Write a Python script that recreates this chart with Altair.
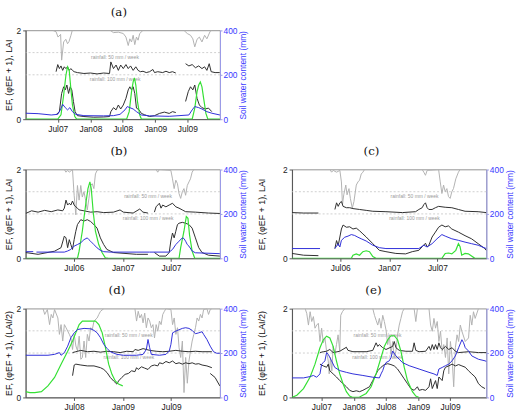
import numpy as np
import pandas as pd
import altair as alt

# ---------------------------------------------------------------------------
# Series values. Times are decimal years; None marks a break in a record.
# Rainfall in mm/week (drawn hanging from the top: 2 - rain/100),
# EF and (phi_EF + 1) on the left axis, LAI (halved in d/e),
# soil water content in mm on the right axis.
# ---------------------------------------------------------------------------

# ----- (a) -----
A_RAIN_T = [2007.42, 2007.47, 2007.50, 2007.54, 2007.556, 2007.587, 2007.62, 2007.647, 2007.67, 2007.70, 2007.72, None,
            2008.305, 2008.355, 2008.431, 2008.507, 2008.548, 2008.583, 2008.608, 2008.634, 2008.659, 2008.684, 2008.71,
            2008.735, 2008.76, 2008.81, None,
            2009.443, 2009.494, 2009.544, 2009.58, 2009.61, 2009.645, 2009.681, 2009.721, 2009.762, 2009.797, 2009.848, 2009.873]
A_RAIN_MM = [0, 3, 15, 9, 67, 26, 20, 30, 25, 11, 0, None,
             0, 5, 4, 7, 15, 34, 19, 26, 11, 32, 15, 22, 7, 0, None,
             0, 7, 11, 19, 37, 20, 15, 26, 11, 19, 2, 0]
A_PHI_T = [2007.47, 2007.496, 2007.521, 2007.546, 2007.572, 2007.597, 2007.622, 2007.647, 2007.673, 2007.698,
           2007.723, 2007.749, 2007.799, 2007.90, 2008.002, 2008.103, 2008.204, 2008.295, 2008.315, 2008.356,
           2008.396, 2008.431, 2008.467, 2008.507, 2008.548, 2008.583, 2008.619, 2008.659, 2008.70, 2008.735,
           2008.77, 2008.811, 2008.861, 2008.912, 2008.963, 2008.988, 2009.038, 2009.114, 2009.165, 2009.215,
           2009.266, 2009.317, None,
           2009.468, 2009.519, 2009.57, 2009.62, 2009.671, 2009.721, 2009.762, 2009.797, 2009.833, 2009.863, 2009.924, 2009.995]
A_PHI_P1 = [1.07, 1.23, 1.14, 1.20, 1.10, 1.18, 1.14, 1.18, 1.10, 1.14,
            1.10, 1.07, 1.05, 1.03, 1.04, 1.02, 1.04, 1.03, 1.29, 1.14,
            1.22, 1.10, 1.22, 1.14, 1.23, 1.14, 1.20, 1.10, 1.18, 1.10,
            1.07, 1.08, 1.05, 1.07, 1.12, 1.05, 1.07, 1.05, 1.08, 1.05,
            1.07, 1.04, None,
            1.25, 1.20, 1.23, 1.16, 1.20, 1.14, 1.18, 1.10, 1.25, 1.07, 1.05, 1.05]
A_EF_T = [2007.47, 2007.521, 2007.556, 2007.587, 2007.612, 2007.637, 2007.663, 2007.688, 2007.713, 2007.738,
          2007.764, 2007.799, 2007.90, 2008.052, 2008.204, 2008.295, 2008.315, 2008.356, 2008.396, 2008.431,
          2008.467, 2008.507, 2008.548, 2008.583, 2008.608, 2008.634, 2008.659, 2008.684, 2008.71, 2008.75,
          2008.786, 2008.836, 2008.912, 2008.988, 2009.064, 2009.14, 2009.215, 2009.266, 2009.317, None,
          2009.468, 2009.509, 2009.544, 2009.58, 2009.61, 2009.645, 2009.681, 2009.721, 2009.772, 2009.822, 2009.873]
A_EF = [0.10, 0.17, 0.58, 0.73, 0.66, 0.77, 0.58, 0.73, 0.66, 0.40,
        0.17, 0.08, 0.06, 0.045, 0.05, 0.06, 0.17, 0.26, 0.21, 0.32,
        0.23, 0.32, 0.47, 0.66, 0.73, 0.66, 0.73, 0.58, 0.25, 0.21,
        0.13, 0.10, 0.06, 0.08, 0.13, 0.16, 0.13, 0.17, 0.15, None,
        0.40, 0.62, 0.73, 0.66, 0.77, 0.47, 0.32, 0.26, 0.23, 0.25, 0.17]
A_LAI_T = [2007.0, 2007.496, 2007.546, 2007.587, 2007.622, 2007.647, 2007.673, 2007.698, 2007.723, 2007.759,
           2007.789, 2008.558, 2008.598, 2008.634, 2008.659, 2008.679, 2008.70, 2008.725, 2008.76, 2008.786,
           2009.57, 2009.61, 2009.645, 2009.671, 2009.696, 2009.721, 2009.747, 2009.782, 2009.812, 2009.998]
A_LAI = [0, 0, 0.10, 0.54, 0.99, 1.18, 1.10, 0.69, 0.32, 0.06,
         0, 0, 0.17, 0.62, 0.84, 0.93, 0.77, 0.40, 0.10, 0,
         0, 0.25, 0.62, 0.77, 0.84, 0.73, 0.47, 0.13, 0, 0]
A_SWC_T = [2007.0, 2007.192, 2007.395, 2007.496, 2007.536, 2007.572, 2007.612, 2007.647, 2007.683, 2007.723,
           2007.774, 2007.90, 2008.204, 2008.356, 2008.457, 2008.533, 2008.568, 2008.608, 2008.659, 2008.71,
           2008.786, 2008.912, 2009.215, 2009.519, 2009.57, 2009.61, 2009.671, 2009.721, 2009.797, 2009.873, 2009.998]
A_SWC = [27, 25, 19, 22, 42, 67, 52, 42, 52, 34,
         22, 16, 15, 16, 22, 42, 57, 52, 46, 34,
         19, 15, 13, 19, 42, 57, 52, 46, 34, 27, 19]

# ----- (b) -----
B_RAIN_T = [2006.398, 2006.415, 2006.432, 2006.449, 2006.482, 2006.499, 2006.516, 2006.533, 2006.55, 2006.567,
            2006.583, 2006.60, 2006.617, 2006.634, 2006.651, 2006.668, 2006.685, 2006.702, 2006.718, 2006.735, 2006.752, None,
            2007.342, 2007.359, 2007.376, 2007.494, 2007.511, 2007.528, 2007.545, 2007.562, 2007.578, 2007.595,
            2007.612, 2007.629, 2007.646, 2007.663, 2007.68, 2007.696, 2007.713, 2007.73]
B_RAIN_MM = [0, 6, 2, 6, 0, 58, 102, 36, 69, 36, 62, 50, 69, 91, 65, 36, 32, 43, 10, 2, 0, None,
             0, 6, 0, 2, 21, 43, 24, 32, 54, 65, 50, 43, 58, 36, 28, 21, 6, 0]
B_PHI_T = [2006.0, 2006.061, 2006.128, 2006.196, 2006.263, 2006.331, 2006.381, 2006.398, 2006.415, 2006.432,
           2006.449, 2006.465, 2006.482, 2006.499, 2006.516, 2006.533, 2006.55, 2006.60, 2006.668, 2006.735,
           2006.803, 2006.904, 2006.971, 2007.005, 2007.106, 2007.174, 2007.207, 2007.258, None,
           2007.325, 2007.342, 2007.359, 2007.376, 2007.393, 2007.41, 2007.443, 2007.477, 2007.511, 2007.545,
           2007.578, 2007.612, 2007.646, 2007.747, 2007.882, 2007.998]
B_PHI_P1 = [1.01, 1.07, 1.04, 1.08, 1.05, 1.09, 1.07, 1.13, 1.31, 1.20,
            1.24, 1.20, 1.29, 1.20, 1.16, 1.13, 1.09, 1.07, 1.04, 1.05,
            1.03, 1.04, 1.09, 1.04, 1.02, 1.11, 1.04, 1.02, None,
            1.04, 1.16, 1.20, 1.24, 1.13, 1.20, 1.16, 1.20, 1.24, 1.16,
            1.13, 1.09, 1.05, 1.04, 1.02, 1.01]
B_EF_T = [2006.0, 2006.128, 2006.297, 2006.364, 2006.398, 2006.415, 2006.432, 2006.449, 2006.465, 2006.482,
          2006.499, 2006.516, 2006.533, 2006.567, 2006.60, 2006.634, 2006.668, 2006.702, 2006.735, 2006.769,
          2006.803, 2006.836, 2006.904, 2007.14, 2007.258, None,
          2007.325, 2007.376, 2007.443, 2007.477, 2007.494, 2007.511, 2007.528, 2007.545, 2007.562, 2007.578,
          2007.612, 2007.646, 2007.68, 2007.713, 2007.747, 2007.781, 2007.815, 2007.882, 2007.998]
B_EF = [0.13, 0.09, 0.16, 0.24, 0.50, 0.46, 0.24, 0.42, 0.31, 0.20,
        0.42, 0.61, 0.76, 0.87, 0.84, 0.87, 0.83, 0.76, 0.68, 0.46,
        0.31, 0.20, 0.13, 0.09, 0.09, None,
        0.13, 0.05, 0.05, 0.13, 0.39, 0.57, 0.46, 0.61, 0.76, 0.79,
        0.81, 0.79, 0.76, 0.68, 0.46, 0.24, 0.13, 0.07, 0.05]
B_LAI_T = [2006.0, 2006.533, 2006.55, 2006.583, 2006.617, 2006.641, 2006.661, 2006.675, 2006.695, 2006.718,
           2006.752, 2006.786, 2006.82, 2006.853, 2007.578, 2007.595, 2007.629, 2007.653, 2007.67, 2007.686,
           2007.713, 2007.74, 2007.998]
B_LAI = [0, 0, 0.16, 0.61, 1.20, 1.57, 1.72, 1.57, 1.05, 0.61,
         0.31, 0.13, 0.01, 0, 0, 0.24, 0.61, 0.94, 0.90, 0.53,
         0.16, 0, 0]
B_SWC_T = [2006.0, 2006.078, None,
           2006.111, 2006.398, 2006.432, 2006.465, 2006.499, 2006.533, 2006.567, 2006.60, 2006.634, 2006.651,
           2006.668, 2006.702, 2006.735, 2006.769, 2006.803, 2006.87, 2007.275, 2007.477, 2007.511, 2007.545,
           2007.578, 2007.612, 2007.629, 2007.646, 2007.663, 2007.68, 2007.713, 2007.747, 2007.998]
B_SWC = [30, 30, None,
         28, 28, 33, 40, 55, 62, 70, 84, 92, 84,
         77, 62, 47, 36, 30, 28, 28, 28, 40, 62,
         77, 92, 89, 77, 62, 55, 33, 25, 21]

# ----- (c) -----
C_RAIN_T = [2006.39, 2006.407, 2006.424, 2006.458, 2006.492, 2006.508, 2006.519, 2006.532, 2006.553, 2006.566,
            2006.586, 2006.60, 2006.62, 2006.637, 2006.661, 2006.678, 2006.695, 2006.712, 2006.729, 2006.746, None,
            2007.339, 2007.356, 2007.373, 2007.39, 2007.508, 2007.525, 2007.542, 2007.559, 2007.576, 2007.593,
            2007.61, 2007.627, 2007.644, 2007.661, 2007.685, 2007.712, 2007.729]
C_RAIN_MM = [0, 6, 2, 6, 2, 28, 79, 57, 35, 57, 43, 65, 87, 72, 35, 28, 24, 10, 6, 0, None,
             0, 6, 13, 2, 0, 28, 54, 35, 50, 43, 61, 65, 50, 43, 21, 6, 0]
C_PHI_T = [2006.0, 2006.119, 2006.271, None,
           2006.441, 2006.458, 2006.475, 2006.492, 2006.508, 2006.525, 2006.559, 2006.593, 2006.627, 2006.695,
           2006.763, 2006.831, 2006.966, 2007.136, 2007.271, 2007.305, 2007.339, 2007.356, 2007.373, 2007.39,
           2007.407, 2007.441, 2007.475, 2007.508, 2007.576, 2007.644, 2007.712, 2007.78, 2007.915, 2007.998]
C_PHI_P1 = [1.03, 1.02, 1.02, None,
            1.10, 1.25, 1.17, 1.25, 1.28, 1.17, 1.14, 1.14, 1.12, 1.10,
            1.08, 1.06, 1.05, 1.03, 1.05, 1.10, 1.14, 1.21, 1.25, 1.14,
            1.10, 1.10, 1.14, 1.17, 1.15, 1.14, 1.10, 1.06, 1.05, 1.03]
C_EF_T = [2006.0, 2006.119, 2006.271, None,
          2006.441, 2006.458, 2006.475, 2006.492, 2006.508, 2006.525, 2006.559, 2006.593, 2006.627, 2006.661,
          2006.695, 2006.729, 2006.763, 2006.831, 2006.898, 2006.966, 2007.068, 2007.169, 2007.237, 2007.305,
          2007.339, 2007.373, 2007.39, 2007.407, 2007.441, 2007.475, 2007.508, 2007.542, 2007.576, 2007.61,
          2007.644, 2007.712, 2007.78, 2007.847, 2007.915, 2007.983, 2007.998]
C_EF = [0.11, 0.07, 0.06, None,
        0.22, 0.40, 0.29, 0.48, 0.66, 0.75, 0.70, 0.71, 0.66, 0.68,
        0.62, 0.55, 0.48, 0.33, 0.18, 0.15, 0.11, 0.10, 0.15, 0.18,
        0.26, 0.34, 0.26, 0.29, 0.48, 0.59, 0.70, 0.75, 0.71, 0.73,
        0.66, 0.59, 0.51, 0.44, 0.33, 0.22, 0.18]
C_LAI_T = [2006.0, 2006.61, 2006.627, 2006.661, 2006.695, 2006.729, 2006.763, 2006.797, 2006.831, 2006.864,
           2007.542, 2007.576, 2007.61, 2007.644, 2007.685, 2007.712, 2007.729, 2007.746, 2007.78, 2007.814,
           2007.847, 2007.881, 2007.998]
C_LAI = [0, 0, 0.07, 0.10, 0.07, 0.15, 0.17, 0.15, 0.04, 0,
         0, 0.11, 0.12, 0.10, 0.18, 0.33, 0.26, 0.07, 0.11, 0.10,
         0.05, 0, 0]
C_SWC_T = [2006.0, 2006.288, None,
           2006.441, 2006.475, 2006.492, 2006.508, 2006.542, 2006.576, 2006.61, 2006.644, 2006.678, 2006.712,
           2006.763, 2006.831, 2006.898, 2006.966, 2007.305, 2007.356, 2007.39, 2007.441, 2007.492, 2007.542,
           2007.576, 2007.644, 2007.712, 2007.78, 2007.847, 2007.915, 2007.998]
C_SWC = [44, 44, None,
         44, 66, 51, 81, 95, 100, 107, 103, 95, 88,
         78, 59, 48, 44, 44, 59, 51, 66, 88, 107,
         100, 88, 81, 73, 66, 59, 44]

# ----- (d) -----
D_RAIN_T = [2008.179, 2008.196, 2008.223, 2008.246, 2008.263, 2008.28, 2008.297, 2008.331, 2008.347, 2008.364,
            2008.381, 2008.398, 2008.415, 2008.449, 2008.465, 2008.482, 2008.499, 2008.516, 2008.533, 2008.55,
            2008.567, 2008.583, 2008.60, 2008.617, 2008.634, 2008.651, 2008.668, 2008.685, 2008.702, 2008.735,
            2008.752, 2008.769, 2008.803, None,
            2009.123, 2009.14, 2009.157, 2009.174, 2009.191, 2009.207, 2009.224, 2009.241, 2009.258, 2009.275,
            2009.292, 2009.309, 2009.325, 2009.342, 2009.359, 2009.376, 2009.393, 2009.41, 2009.427, 2009.443,
            2009.494, 2009.511, 2009.528, 2009.545, 2009.562, 2009.578, 2009.595, 2009.612, 2009.629, 2009.646,
            2009.663, 2009.68, 2009.696, 2009.713, 2009.73, 2009.747, 2009.764, 2009.781, 2009.798, 2009.815,
            2009.831, 2009.865, 2009.882, 2009.899, 2009.916]
D_RAIN_MM = [0, 13, 2, 36, 13, 21, 2, 21, 58, 36,
             73, 36, 43, 58, 66, 92, 58, 84, 95, 62,
             114, 110, 73, 110, 58, 73, 43, 47, 28, 21,
             13, 6, 0, None,
             0, 28, 6, 21, 13, 32, 10, 43, 21, 28,
             43, 36, 66, 36, 51, 28, 36, 13, 6, 0,
             2, 36, 21, 58, 43, 88, 110, 73, 189, 110,
             168, 118, 95, 73, 58, 43, 21, 28, 13, 21,
             2, 0, 13, 2, 0]
D_PHI_T = [2008.482, 2008.516, 2008.567, 2008.634, 2008.702, 2008.769, 2008.836, 2008.904, 2008.971, 2009.039,
           2009.106, 2009.123, 2009.157, 2009.207, 2009.275, 2009.342, 2009.41, 2009.477, 2009.545, 2009.612,
           2009.68, 2009.747, 2009.815, 2009.916]
D_PHI_P1 = [1.01, 1.03, 1.06, 1.03, 1.04, 1.02, 1.04, 1.03, 1.01, 1.04,
            1.03, 1.08, 1.06, 1.10, 1.06, 1.04, 1.03, 1.04, 1.06, 1.04,
            1.03, 1.04, 1.03, 1.03]
D_EF_T = [2008.482, 2008.499, 2008.516, 2008.567, 2008.634, 2008.702, 2008.769, 2008.803, 2008.836, 2008.87,
          2008.904, 2008.938, 2008.954, 2008.988, 2009.022, 2009.056, 2009.089, 2009.123, 2009.14, 2009.157,
          2009.191, 2009.224, 2009.258, 2009.292, 2009.325, 2009.359, 2009.376, 2009.41, 2009.443, 2009.477,
          2009.511, 2009.545, 2009.578, 2009.612, 2009.646, 2009.68, 2009.713, 2009.747, 2009.781, 2009.815,
          2009.865, 2009.916, None,
          2009.899, 2009.949, 2009.998]
D_EF = [0.49, 0.73, 0.75, 0.73, 0.71, 0.71, 0.67, 0.63, 0.56, 0.45,
        0.37, 0.30, 0.37, 0.45, 0.52, 0.54, 0.60, 0.58, 0.67, 0.63,
        0.69, 0.66, 0.63, 0.71, 0.73, 0.71, 0.78, 0.76, 0.81, 0.78,
        0.82, 0.76, 0.78, 0.75, 0.78, 0.76, 0.78, 0.75, 0.76, 0.73,
        0.71, 0.67, None,
        0.54, 0.45, 0.26]
D_LAI_T = [2008.0, 2008.044, 2008.094, 2008.162, 2008.229, 2008.297, 2008.364, 2008.432, 2008.482, 2008.516,
           2008.55, 2008.583, 2008.668, 2008.718, 2008.752, 2008.786, 2008.82, 2008.853, 2008.887, 2008.921,
           2008.954, 2008.998]
D_LAI = [0.26, 0.22, 0.22, 0.26, 0.52, 0.90, 1.50, 2.08, 2.54, 2.92,
         3.28, 3.44, 3.44, 3.44, 3.28, 2.92, 2.24, 1.50, 1.04, 0.74,
         0.60, 0.52]
D_SWC_T = [2008.0, 2008.229, 2008.297, 2008.347, 2008.364, 2008.398, 2008.432, 2008.465, 2008.499, 2008.533,
           2008.60, 2008.668, 2008.702, 2008.735, 2008.769, 2008.803, 2008.836, 2008.87, 2008.938, 2009.005,
           2009.14, 2009.207, 2009.241, 2009.258, 2009.275, 2009.292, 2009.376, 2009.443, 2009.477, 2009.494,
           2009.511, 2009.545, 2009.612, 2009.646, 2009.68, 2009.713, 2009.747, 2009.781, 2009.815, 2009.831,
           2009.865, 2009.899, 2009.933, 2009.966, 2009.998]
D_SWC = [190, 190, 194, 202, 190, 202, 231, 269, 291, 306,
         311, 309, 302, 291, 269, 239, 221, 206, 194, 190,
         190, 194, 216, 261, 224, 194, 190, 194, 209, 239,
         291, 299, 311, 314, 311, 302, 287, 291, 296, 284,
         261, 231, 206, 199, 199]

# ----- (e) -----
E_RAIN_T = [2007.244, 2007.269, 2007.295, 2007.321, 2007.346, 2007.372, 2007.397, 2007.423, 2007.449, 2007.474,
            2007.50, 2007.526, 2007.551, 2007.577, 2007.603, 2007.618, 2007.638, 2007.659, 2007.679, 2007.705,
            2007.731, 2007.756, 2007.782, 2007.797, 2007.823, 2007.859, None,
            2008.295, 2008.321, 2008.346, 2008.372, 2008.397, 2008.423, 2008.449, 2008.474, 2008.50, 2008.526,
            2008.551, 2008.577, 2008.603, 2008.628, 2008.654, 2008.679, 2008.705, 2008.731, 2008.756, 2008.782,
            2008.936, 2008.962, 2008.987, None,
            2009.167, 2009.192, 2009.218, 2009.244, 2009.269, 2009.295, 2009.321, 2009.346, 2009.372, 2009.397,
            2009.423, 2009.449, 2009.474, 2009.50, 2009.526, 2009.551, 2009.577, 2009.603, 2009.628, 2009.654,
            2009.679, 2009.731, 2009.782, 2009.808, 2009.833, 2009.859, 2009.885, 2009.936]
E_RAIN_MM = [0, 11, 37, 7, 29, 18, 44, 37, 33, 74,
             44, 77, 66, 96, 118, 147, 110, 140, 85, 103,
             81, 59, 96, 15, 7, 0, None,
             0, 15, 26, 37, 22, 44, 15, 29, 48, 81,
             59, 103, 74, 110, 96, 59, 37, 22, 7, 0,
             0, 29, 0, None,
             0, 37, 51, 22, 44, 29, 74, 51, 96, 81,
             110, 66, 147, 74, 110, 176, 88, 59, 74, 37,
             51, 74, 66, 15, 37, 7, 22, 0]
E_PHI_T = [2007.474, 2007.526, 2007.577, 2007.628, 2007.679, 2007.782, 2007.885, 2007.91, 2007.987, 2008.192,
           2008.295, 2008.346, 2008.372, 2008.397, 2008.449, 2008.50, 2008.603, 2008.628, 2008.654, 2008.705,
           2008.808, 2008.91, 2008.936, 2008.962, 2009.013, 2009.115, 2009.167, 2009.192, 2009.218, 2009.244,
           2009.269, 2009.295, 2009.321, 2009.346, 2009.372, 2009.423, 2009.474, 2009.526, 2009.577, 2009.628,
           2009.782, 2009.936, 2010.06]
E_PHI_P1 = [1.01, 1.03, 1.04, 1.08, 1.01, 1.04, 1.13, 1.06, 1.03, 1.03,
            1.06, 1.23, 1.15, 1.19, 1.12, 1.08, 1.15, 1.26, 1.12, 1.06,
            1.04, 1.04, 1.23, 1.06, 1.03, 1.04, 1.15, 1.06, 1.19, 1.08,
            1.19, 1.08, 1.23, 1.12, 1.08, 1.15, 1.08, 1.12, 1.04, 1.01,
            1.03, 1.01, 1.01]
E_EF_T = [2007.474, 2007.526, 2007.577, 2007.603, 2007.628, 2007.679, 2007.731, 2007.782, 2007.833, 2007.885,
          2007.936, 2007.987, 2008.038, 2008.09, 2008.141, 2008.192, 2008.244, 2008.269, 2008.295, 2008.321,
          2008.372, 2008.423, 2008.474, 2008.526, 2008.577, 2008.628, 2008.679, 2008.731, 2008.782, 2008.833,
          2008.885, 2008.936, 2008.987, 2009.013, 2009.064, 2009.115, 2009.167, 2009.192, 2009.218, 2009.269,
          2009.295, 2009.321, 2009.372, 2009.397, 2009.423, 2009.474, 2009.526, 2009.577, 2009.628, 2009.679,
          2009.731, 2009.782, 2009.833, 2009.885, 2009.936, 2009.987, 2010.038]
E_EF = [0.75, 0.71, 0.68, 0.75, 0.60, 0.53, 0.46, 0.38, 0.31, 0.24,
        0.16, 0.13, 0.15, 0.13, 0.16, 0.20, 0.24, 0.31, 0.38, 0.46,
        0.60, 0.68, 0.74, 0.76, 0.74, 0.71, 0.64, 0.53, 0.42, 0.31,
        0.20, 0.16, 0.24, 0.16, 0.18, 0.16, 0.24, 0.42, 0.20, 0.38,
        0.20, 0.46, 0.38, 0.60, 0.68, 0.71, 0.75, 0.71, 0.74, 0.71,
        0.68, 0.60, 0.53, 0.46, 0.31, 0.24, 0.20]
E_LAI_T = [2007.038, 2007.115, 2007.218, 2007.321, 2007.397, 2007.474, 2007.526, 2007.577, 2007.628, 2007.679,
           2007.731, 2007.782, 2007.833, 2007.885, 2007.936, 2007.987, 2008.09, 2008.192, 2008.269, 2008.346,
           2008.423, 2008.474, 2008.526, 2008.577, 2008.628, 2008.679, 2008.731, 2008.782, 2008.833, 2008.91,
           2008.962, 2009.013]
E_LAI = [0, 0.10, 0.40, 0.92, 1.50, 2.24, 2.60, 2.76, 2.68, 2.30,
         1.64, 1.06, 0.62, 0.26, 0.06, 0, 0.02, 0.18, 0.48, 1.06,
         1.80, 2.30, 2.60, 2.78, 2.78, 2.60, 2.08, 1.36, 0.76, 0.26,
         0.06, 0]
E_SWC_T = [2007.038, 2007.218, 2007.321, 2007.372, 2007.423, 2007.474, 2007.50, 2007.526, 2007.551, 2007.577,
           2007.603, 2007.654, 2007.705, 2007.782, 2007.885, 2007.987, 2008.141, 2008.295, 2008.397, 2008.423,
           2008.449, 2008.474, 2008.50, 2008.551, 2008.577, 2008.603, 2008.654, 2008.705, 2008.756, 2008.859,
           2009.013, 2009.167, 2009.244, 2009.295, 2009.321, 2009.372, 2009.423, 2009.474, 2009.526, 2009.577,
           2009.628, 2009.679, 2009.705, 2009.731, 2009.782, 2009.833, 2009.936, 2010.038, 2010.06]
E_SWC = [88, 88, 94, 99, 91, 106, 150, 157, 165, 202,
         194, 165, 135, 121, 113, 106, 99, 91, 88, 106,
         121, 143, 157, 165, 179, 209, 187, 172, 157, 143,
         128, 113, 106, 99, 128, 135, 143, 150, 165, 187,
         224, 260, 246, 224, 209, 187, 172, 165, 162]

# Tick months shown on each time axis (year, month)
TICKS_A = [(2007, 7), (2008, 1), (2008, 7), (2009, 1), (2009, 7)]
TICKS_BC = [(2006, 7), (2007, 1), (2007, 7)]
TICKS_D = [(2008, 7), (2009, 1), (2009, 7)]
TICKS_E = [(2007, 7), (2008, 1), (2008, 7), (2009, 1), (2009, 7)]

RAIN_LABELS = ["rainfall: 50 mm / week", "rainfall: 100 mm / week"]
RAIN_LEVELS = [50, 100]

# ---------------------------------------------------------------------------
C_RAIN = "#b2b2b2"
C_BLACK = "#2e2e2e"
C_GREEN = "#35e035"
C_BLUE = "#2f2fd8"
C_BLUE_TXT = "#3a3aff"
PW, PH = 197, 90


def dec_to_ts(t):
    y = int(np.floor(t))
    start = pd.Timestamp(year=y, month=1, day=1)
    end = pd.Timestamp(year=y + 1, month=1, day=1)
    return start + (end - start) * (t - y)


def dec_to_dt(t):
    ts = dec_to_ts(t)
    return alt.DateTime(year=ts.year, month=ts.month, date=ts.day, hours=ts.hour)


def series_frame(times, values, fn=None):
    rows, seg = [], 0
    for t, v in zip(times, values):
        if t is None:
            seg += 1
            continue
        rows.append({"t": dec_to_ts(t), "v": v if fn is None else fn(v), "seg": seg})
    return pd.DataFrame(rows)


def panel(letter, dom, ticks, rain, phi, ef, lai, swc, lai_factor, ytitle,
          label_frac, title_pad, title_dx):
    xscale = alt.Scale(domain=[dec_to_dt(dom[0]), dec_to_dt(dom[1])], nice=False)
    yscale = alt.Scale(domain=[0, 2], nice=False, zero=False)
    xaxis = alt.Axis(values=[alt.DateTime(year=y, month=m, date=1) for y, m in ticks],
                     format="%b%y", title=None, grid=False, tickSize=3,
                     labelPadding=2, labelFontSize=8.5, labelColor="#222",
                     domainColor="#555", tickColor="#555")
    yaxis = alt.Axis(values=[0, 1, 2], format="d", title=ytitle, grid=False, tickSize=3,
                     labelPadding=2, labelFontSize=8.5, labelColor="#222",
                     titleFontSize=9, titleFontWeight="normal", titleColor="#111",
                     titlePadding=title_pad, domainColor="#555", tickColor="#555")

    def line(df, color, width=1.0):
        return alt.Chart(df).mark_line(color=color, strokeWidth=width, clip=True).encode(
            x=alt.X("t:T", scale=xscale, axis=xaxis),
            y=alt.Y("v:Q", scale=yscale, axis=yaxis),
            detail="seg:N",
        )

    rain_df = series_frame(rain[0], rain[1], lambda mm: 2 - mm / 100.0)
    phi_df = series_frame(phi[0], phi[1])
    ef_df = series_frame(ef[0], ef[1])
    lai_df = series_frame(lai[0], lai[1], lambda x: x * lai_factor)
    swc_df = series_frame(swc[0], swc[1])

    ref_df = pd.DataFrame({"v": [2 - r / 100.0 for r in RAIN_LEVELS]})
    refs = alt.Chart(ref_df).mark_rule(color="#c4c4c4", strokeDash=[2, 2], strokeWidth=0.8).encode(
        y=alt.Y("v:Q", scale=yscale, axis=yaxis)
    )
    lab_t = dec_to_ts(dom[0] + (dom[1] - dom[0]) * label_frac)
    lab_df = pd.DataFrame({"t": [lab_t, lab_t], "v": ref_df["v"], "label": RAIN_LABELS})
    labels = alt.Chart(lab_df).mark_text(fontSize=5, color="#9a9a9a", baseline="top", dy=2,
                                         font="Liberation Sans").encode(
        x=alt.X("t:T", scale=xscale, axis=xaxis),
        y=alt.Y("v:Q", scale=yscale, axis=yaxis),
        text="label:N",
    )

    left = alt.layer(
        refs, labels,
        line(rain_df, C_RAIN),
        line(phi_df, C_BLACK),
        line(ef_df, C_BLACK),
        line(lai_df, C_GREEN, 1.2),
    )
    right = alt.Chart(swc_df).mark_line(color=C_BLUE, strokeWidth=1.0, clip=True).encode(
        x=alt.X("t:T", scale=xscale, axis=xaxis),
        y=alt.Y("v:Q", scale=alt.Scale(domain=[0, 400], nice=False),
                axis=alt.Axis(orient="right", values=[0, 200, 400], format="d",
                              title="Soil water content (mm)",
                              grid=False, tickSize=2, labelPadding=1, labelFontSize=8.5,
                              labelColor=C_BLUE_TXT, titleColor=C_BLUE_TXT, titleFontSize=8.5,
                              titleFontWeight="normal", titleAngle=270, titleBaseline="top",
                              titlePadding=2,
                              domainColor="#9a9ae8", tickColor="#9a9ae8")),
        detail="seg:N",
    )
    return alt.layer(left, right).resolve_scale(y="independent").properties(
        width=PW, height=PH,
        title=alt.TitleParams(text=letter, font="DejaVu Serif", fontSize=12, fontWeight="normal",
                              anchor="middle", frame="group", offset=8, dx=title_dx, color="#111"),
    )


T1 = "EF, (\u03c6EF + 1), LAI"
T2 = "EF, (\u03c6EF + 1), (LAI/2)"

pa = panel("(a)", (2007.0, 2010.0), TICKS_A, (A_RAIN_T, A_RAIN_MM), (A_PHI_T, A_PHI_P1),
           (A_EF_T, A_EF), (A_LAI_T, A_LAI), (A_SWC_T, A_SWC), 1.0, T1, 0.46, 3, -4)
pb = panel("(b)", (2006.0, 2008.0), TICKS_BC, (B_RAIN_T, B_RAIN_MM), (B_PHI_T, B_PHI_P1),
           (B_EF_T, B_EF), (B_LAI_T, B_LAI), (B_SWC_T, B_SWC), 1.0, T1, 0.63, 3, -4)
pc = panel("(c)", (2006.0, 2008.0), TICKS_BC, (C_RAIN_T, C_RAIN_MM), (C_PHI_T, C_PHI_P1),
           (C_EF_T, C_EF), (C_LAI_T, C_LAI), (C_SWC_T, C_SWC), 1.0, T1, 0.63, 16, -18)
pd_ = panel("(d)", (2008.0, 2010.0), TICKS_D, (D_RAIN_T, D_RAIN_MM), (D_PHI_T, D_PHI_P1),
            (D_EF_T, D_EF), (D_LAI_T, D_LAI), (D_SWC_T, D_SWC), 0.5, T2, 0.53, 3, -6)
pe = panel("(e)", (2007.04, 2010.06), TICKS_E, (E_RAIN_T, E_RAIN_MM), (E_PHI_T, E_PHI_P1),
           (E_EF_T, E_EF), (E_LAI_T, E_LAI), (E_SWC_T, E_SWC), 0.5, T2, 0.44, 16, -16)

chart = alt.vconcat(
    pa,
    alt.hconcat(pb, pc, spacing=8),
    alt.hconcat(pd_, pe, spacing=8),
    spacing=11,
).configure_view(
    stroke="#777", strokeWidth=0.8
).configure_axis(
    labelFont="Liberation Sans", titleFont="Liberation Sans"
).properties(
    padding={"left": 3, "top": 2, "right": 2, "bottom": 2},
    background="white",
)

chart.save("out.html", embed_options={"renderer": "svg", "actions": False})
